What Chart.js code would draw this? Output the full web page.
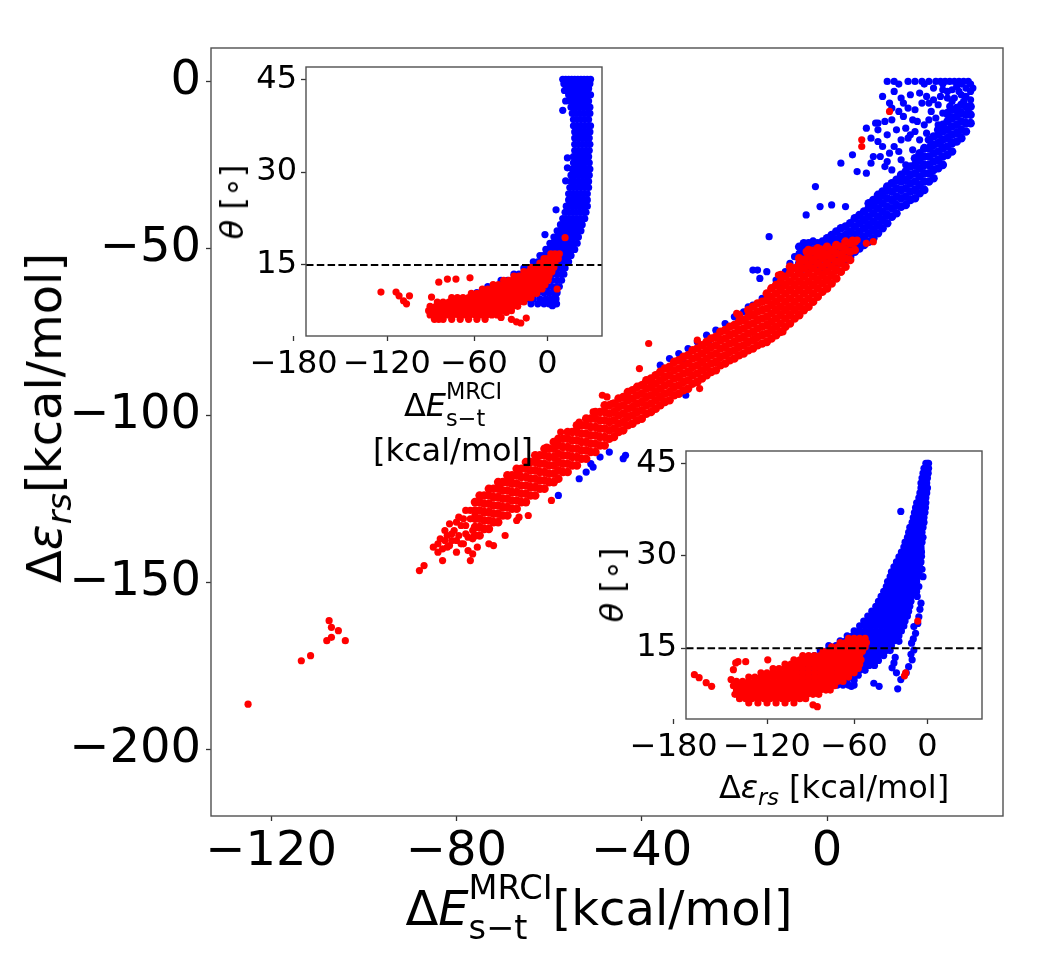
<!DOCTYPE html>
<html><head><meta charset="utf-8">
<script src="https://cdn.jsdelivr.net/npm/chart.js@4/dist/chart.umd.min.js"></script>
<style>
html,body{margin:0;padding:0;background:#fff;}
#wrap{position:relative;width:1056px;height:960px;overflow:hidden;background:#fff;font-family:'DejaVu Sans',sans-serif;color:#000;}
canvas{position:absolute;left:0;top:0;}
.t{position:absolute;white-space:nowrap;line-height:1;transform:translate(-50%,-50%);}
.r{transform:translate(-50%,-50%) rotate(-90deg);}
.ss{display:inline-block;font-size:0.7em;line-height:1.2;vertical-align:-0.42em;text-align:left;}
.ss span{display:block;}
.sb{font-size:0.7em;position:relative;top:0.3em;}
i{font-style:italic;}
.two{text-align:center;line-height:1.15;}
</style></head><body>
<div id="wrap">
<canvas id="main" width="1056" height="960"></canvas>
<canvas id="in1" width="1056" height="960"></canvas>
<canvas id="in2" width="1056" height="960"></canvas>
<div class="t" style="left:599px;top:908px;font-size:48px">Δ<i>E</i><span class="ss"><span>MRCI</span><span>s−t</span></span>[kcal/mol]</div>
<div class="t r" style="left:44px;top:418px;font-size:48px">Δ<i>ε</i><i class="sb">rs</i>[kcal/mol]</div>
<div class="t r" style="left:232px;top:202px;font-size:32px"><i>θ</i> [∘]</div>
<div class="t r" style="left:612px;top:585px;font-size:32px"><i>θ</i> [∘]</div>
<div class="t two" style="left:453px;top:423px;font-size:32px">Δ<i>E</i><span class="ss"><span>MRCI</span><span>s−t</span></span><br>[kcal/mol]</div>
<div class="t" style="left:834px;top:787px;font-size:32px">Δ<i>ε</i><i class="sb">rs</i> [kcal/mol]</div>
</div>
<script>
// ===== DATA =====
// Main panel: x = ΔE_MRCI(s-t), y = Δε_rs.  Columns: [x, y1, y2, ...]
const mainRedColumns = [
[-76,-136,-133.5,-131,-128.5,-126],
[-75,-136,-133.5,-131,-128.5,-126,-124],[-74,-134,-131.5,-129,-126.5,-124],[-73,-134,-131.5,-129,-126.5,-124,-122],
[-72,-132,-129.5,-127,-124.5,-122],[-71,-132,-129.5,-127,-124.5,-122,-120],[-70,-130,-127.5,-125,-122.5,-120],
[-69,-130,-127.5,-125,-122.5,-120,-118],[-68,-128,-125.5,-123,-120.5,-118],[-67,-128,-125.5,-123,-120.5,-118,-116],
[-66,-126,-123.5,-121,-118.5,-116],[-65,-126,-123.5,-121,-118.5,-116,-114],[-64,-124,-121.5,-119,-116.5,-114],
[-63,-124,-121.5,-119,-116.5,-114,-112],[-62,-122,-119.5,-117,-114.5,-112],[-61,-122,-119.5,-117,-114.5,-112,-110],
[-60,-120,-117.5,-115,-112.5,-110],[-59,-120,-117.5,-115,-112.5,-110,-108],[-58,-119,-116.5,-114,-111.5,-109,-107],
[-57,-117,-114.5,-112,-109.5,-107],[-56,-117,-114.5,-112,-109.5,-107,-105],[-55,-115,-112.5,-110,-107.5,-105],
[-54,-115,-112.5,-110,-107.5,-105,-103],[-53,-113,-110.5,-108,-105.5,-103],[-52,-113,-110.5,-108,-105.5,-103,-101],
[-51,-111,-108.5,-106,-103.5,-101],[-50,-111,-108.5,-106,-103.5,-101,-99],[-49,-109,-106.5,-104,-101.5,-99],
[-48,-109,-106.5,-104,-101.5,-99,-97],[-47,-107,-104.5,-102,-99.5,-97],[-46,-106.5,-104,-101.5,-99,-96.5],
[-45,-105,-102.5,-100,-97.5,-95],[-44,-104.5,-102,-99.5,-97,-94.5],[-43,-103,-100.5,-98,-95.5,-93],
[-42,-102.5,-100,-97.5,-95,-92.5],[-41,-101.5,-99,-96.5,-94,-91.5],[-40,-101,-98.5,-96,-93.5,-91],
[-39,-99.5,-97,-94.5,-92,-89.5],[-38,-99,-96.5,-94,-91.5,-89],[-37,-98,-95.5,-93,-90.5,-88],
[-36,-97,-94.5,-92,-89.5,-87],[-35,-96,-93.5,-91,-88.5,-86],[-34,-95.5,-93,-90.5,-88,-85.5],
[-33,-94,-91.5,-89,-86.5,-84],[-32,-93.5,-91,-88.5,-86,-83.5],[-31,-92.5,-90,-87.5,-85,-82.5],
[-30,-92,-89.5,-87,-84.5,-82],[-29,-90.5,-88,-85.5,-83,-80.5],[-28,-90,-87.5,-85,-82.5,-80],
[-27,-89,-86.5,-84,-81.5,-79],[-26,-88,-85.5,-83,-80.5,-78],[-25,-87,-84.5,-82,-79.5,-77],
[-24,-86.5,-84,-81.5,-79,-76.5],[-23,-85,-82.5,-80,-77.5,-75],[-22,-84.5,-82,-79.5,-77,-74.5],
[-21,-83.5,-81,-78.5,-76,-73.5],[-20,-83,-80.5,-78,-75.5,-73],[-19,-82,-79.5,-77,-74.5,-72,-70],
[-18,-81.5,-79,-76.5,-74,-71.5],[-17,-80.5,-78,-75.5,-73,-70.5,-68.5],[-16,-80,-77.5,-75,-72.5,-70,-67.5],
[-15,-79,-76.5,-74,-71.5,-69,-66.5],[-14,-78.5,-76,-73.5,-71,-68.5,-66],[-13,-78,-75.5,-73,-70.5,-68,-65.5,-63.5],
[-12,-77,-74.5,-72,-69.5,-67,-64.5,-62],[-11,-76,-73.5,-71,-68.5,-66,-63.5,-61],[-10,-75,-72.5,-70,-67.5,-65,-62.5,-60,-58],
[-9,-73.5,-71,-68.5,-66,-63.5,-61,-58.5],[-8,-72.5,-70,-67.5,-65,-62.5,-60,-57.5,-55.5],[-7,-71,-68.5,-66,-63.5,-61,-58.5,-56],
[-6,-70,-67.5,-65,-62.5,-60,-57.5,-55,-53],[-5,-68.5,-66,-63.5,-61,-58.5,-56,-53.5],[-4,-67.5,-65,-62.5,-60,-57.5,-55,-52.5,-50.5],
[-3,-66,-63.5,-61,-58.5,-56,-53.5,-51],[-2,-64.5,-62,-59.5,-57,-54.5,-52,-50],[-1,-63,-60.5,-58,-55.5,-53,-50.5],
[0,-62,-59.5,-57,-54.5,-52,-49.5],[1,-60.5,-58,-55.5,-53,-50.5],[2,-59,-56.5,-54,-51.5,-49],
[3,-57,-54.5,-52,-49.5],[4,-55.5,-53,-50.5,-48],[5,-53.5,-51,-48.5],[6,-50.5,-48]
];
// scattered red points: x,y pairs
const mainRedExtra = [
-125,-186.5, -113.5,-173.5, -111.5,-172, -108,-167.5, -107,-166.5, -104,-167.5, -105.5,-164.5, -107,-163.5, -107.5,-161.5,
-88,-146.5, -87,-145, -83,-143.5, -77,-143.5, -73,-138.5, -67,-131.5,
-84,-141, -83.5,-137, -82,-139.5, -81,-135.5, -80,-141, -80,-137.5, -79,-133, -78.5,-138.5, -78,-135.5, -77,-131,
-77.5,-140.5, -76.5,-137, -79.5,-130.5, -81.5,-132.5, -85,-139.5, -82.5,-134.5, -75.5,-139.5, -78,-128.5,
-83,-140, -82.5,-137.5, -81.5,-139, -80.5,-134.5, -79.5,-136, -79,-138.5, -78,-133, -77.5,-136.5, -76.5,-134.5,
-77,-128.5, -80,-132, -81,-137.5, -78.5,-131, -76,-130, -82,-136, -84,-138.5,
-70.5,-122, -68,-120, -66.5,-116.5, -62.5,-114, -60.5,-109.5, -57.5,-105, -54,-103.5, -47.5,-94.5, -50.5,-99, -53.5,-102,
-76.5,-141.5, -72,-139, -69.5,-136, -66.5,-130.5, -64.5,-130, -59.5,-125.5,
-38.5,-78.5, -9.5,-75, -19.5,-69.5, -10.5,-58, -40.5,-86, -39.5,-90.5, -38,-90.5, -48.5,-94, -46.5,-96.5, -43,-94.5,
-34.5,-86, -27.5,-92, -28,-77.5,
13.5,-9, 7.5,-17.5, 7.5,-19.5, 6.5,-47.5, 10,-48, 8.5,-48.5, 5.5,-47.5, 3,-53.5, 1,-53, -1,-52, -4.5,-51, -3,-50.5
];
const mainBlueColumns = [
[-6,-57,-54.5,-52,-49.5],[-5,-56,-53.5,-51,-48.5],[-4,-56,-53.5,-51,-48.5],[-3,-55.5,-53,-50.5,-48],
[-2,-56,-53.5,-51,-48.5],[-1,-55.5,-53,-50.5,-48],[0,-56,-53.5,-51,-48.5,-47],[1,-55,-52.5,-50,-47.5,-46],
[2,-55,-52.5,-50,-47.5,-45],[3,-54,-51.5,-49,-46.5,-44],[4,-53.5,-51,-48.5,-46,-43.5],[5,-52.5,-50,-47.5,-45,-42.5],
[6,-51,-48.5,-46,-43.5,-41],[7,-50,-47.5,-45,-42.5,-40],[8,-49,-46.5,-44,-41.5,-39],[9,-48,-45.5,-43,-40.5,-38,-36.5],
[10,-47,-44.5,-42,-39.5,-37,-35.5],[11,-45.5,-43,-40.5,-38,-35.5,-34],[12,-44,-41.5,-39,-36.5,-34,-33],
[13,-42.5,-40,-37.5,-35,-32.5,-31.5],[14,-40.5,-38,-35.5,-33,-30.5],[15,-39.5,-37,-34.5,-32,-29.5],
[16,-37.5,-35,-32.5,-30,-28],[17,-37,-34.5,-32,-29.5,-27],[18,-35.5,-33,-30.5,-28,-25.5],
[19,-35,-32.5,-30,-27.5,-25,-23],[20,-33.5,-31,-28.5,-26,-23.5,-21.5],[21,-32.5,-30,-27.5,-25,-22.5,-20],
[22,-30,-27.5,-25,-22.5,-20,-17.5],[23,-29,-26.5,-24,-21.5,-19,-16.5],[24,-26,-23.5,-21,-18.5,-16,-14.5],
[25,-25,-22.5,-20,-17.5,-15,-13],[26,-22,-19.5,-17,-14.5,-12,-9.5],[27,-21,-18.5,-16,-13.5,-11,-8.5],
[28,-18,-15.5,-13,-10.5,-8],[29,-17,-14.5,-12,-9.5,-7],[30,-15,-12.5,-10,-7.5],[31,-12.5,-10,-7.5]
];
const mainBlueExtra = [
-36,-85, -34,-83, -32,-81.5, -30,-80, -28,-78, -26,-76, -24,-74.5, -22,-72.5, -20,-70.5, -18,-69, -16,-67, -14,-65,
-31,-84, -25.5,-77.5, -17,-67.5,
-58,-124, -53.5,-119, -51,-114.5, -49,-112.5, -47,-111, -43.5,-112, -44,-113, -52,-117, -50.5,-115.5, -30.5,-94,
-10,-61.5, -8,-54.5, -9,-57, -7,-52.5, -11,-59.5, -12,-62, -6,-51.5, -5,-50,
-2.5,-31.5, -1.5,-37.5, 1,-37, 4,-37.5, -4.5,-40, -12.5,-46.5, -16,-56.5, -15,-56.5, -14.5,-59, -13,-57,
3,-24.5, 5.5,-22, 6.5,-27, 8.5,-27.5, 8.5,-14, 11,-12.5, 9.5,-17,
13,0, 14.5,0, 17.5,0, 19,0, 20.5,0, 22,0, 23.5,0, 24.5,0, 25.5,0, 26.5,0, 27.5,0, 28.5,0, 29.5,0, 30.5,0,
15.5,-0.8, 21,-0.8, 25,-0.8, 29,-0.8, 31,-0.8,
14.5,-3, 12,-4.5, 16,-5, 16.5,-6.5, 20,-3.5, 21.5,-4.5, 23,-5.5, 24.5,-4.5, 26.5,-7.5, 28,-8.5, 29.5,-6, 27.5,-5,
31,-3, 30,-2, 25,-2.5, 23,-2, 19,-8.5, 16.5,-10.5, 14,-11.5, 18.5,-11.5, 21,-13, 23.5,-11, 22.5,-9, 25,-9.5,
20,-17.5, 18.5,-20.5, 17,-25, 16,-17.5, 14.5,-19.5, 13.5,-21.5, 12,-19.5, 11.5,-22.5, 12.5,-25.5, 10,-22.5,
9.5,-24.5, 11,-14.5, 10.5,-12.5, 19,-15, 17,-14, 26,-10, 13,-16, 15,-14.5,
27,-2.5, 28.5,-3, 30,-4.5, 31,-5.5, 29,-4, 30.5,-8.5, 27,-6, 26,-5, 24,-7, 22,-6.5, 31.5,-2, 28,-1.5, 26,-3,
14,-8, 15.5,-9, 17.5,-8, 18,-4, 20.5,-6.5, 22,-11.5, 24,-13, 21.5,-15.5, 19.5,-12, 17.5,-17, 15.5,-21, 13,-24,
14,-26.5, 16,-23.5, 18,-16, 12.5,-12, 13.5,-6.5, 11,-18
];
const mainXTicks = [-120,-80,-40,0];
const mainYTicks = [0,-50,-100,-150,-200];

// Inset 1 (top-left): x = ΔE_MRCI(s-t), y = θ.  Rows: [θ, x1, x2, ...]
const inset1BlueRows = [
[45,15,17.5,20,22.5,25,27.5,30,32.5,35,37.5],[44.3,16,19,22,25,28,31,34,37],[43.5,18,21,24,27,30,33,36],
[42.5,20,23,26,29,32,35,37.5],[41.5,21,24,27,30,33,36],[40.5,22,25,28,31,34,37],[39.5,23,26,29,32,35,37],
[38.5,24,27,30,33,36],[37.5,24,27,30,33,36,37.5],[36.5,25,28,31,34,37],[35.5,25,28,31,34,36.5],
[34.5,25,28,31,34,37],[33.5,25,28,31,34,36.5],[32.5,24,27,30,33,36],[31.5,24,27,30,33,36.5],
[30.5,23,26,29,32,35,37],[29.5,22,25,28,31,34,36.5],[28.5,22,25,28,31,34,36],[27.5,21,24,27,30,33,36],
[26.5,20,23,26,29,32,35],[25.5,20,23,26,29,32,35],[24.5,18,21,24,27,30,33,35],[23.5,17,20,23,26,29,32,34],
[22.5,15,18,21,24,27,30,33],[21.5,13,16,19,22,25,28,31],[20.5,10,13,16,19,22,25,28,30],
[19.5,7,10,13,16,19,22,25,28],[18.5,3,6,9,12,15,18,21,24,27],[17.5,-2,1,4,7,10,13,16,19,22,25],
[16.5,-8,-5,-2,1,4,7,10,13,16,19,22],[15.5,-14,-10,-6,-2,2,6,10,14,18,20],
[14.5,-22,-18,-14,-10,-6,-2,2,6,10,14,17],[13.5,-30,-26,-22,-18,-14,-10,-6,-2,2,6,10,14,16],
[12.5,-40,-35,-30,-25,-20,-15,-10,-5,0,5,10,14],[11.5,-50,-45,-40,-35,-30,-25,-20,-15,-10,-5,0,5,9,12],
[10.5,-58,-52,-46,-40,-34,-28,-22,-16,-10,-4,2,7,10],[9.5,-62,-56,-50,-20,-14,-8,-2,4,9],
[8.7,-58,-52,-16,-10,-4,2,7,9.5]
];
const inset1BlueExtra = [9,23.9, -3,19.9, 17.5,28.6, 19,32.3, 19,30.7, 15,40, 17.5,41.5, 16.5,43.2, 5.5,8.4, 8,9.7];
const inset1RedRows = [
[16.8,4,8,12],[16,-4,0,4,8,11],[15.3,-8,-4,0,4,8],[14.6,-16,-12,-8,-4,0,4,7],
[13.9,-22,-18,-14,-10,-6,-2,2,5],[13.2,-30,-26,-22,-18,-14,-10,-6,-2,2],
[12.5,-38,-34,-30,-26,-22,-18,-14,-10,-6,-2,1],[11.8,-46,-42,-38,-34,-30,-26,-22,-18,-14,-10,-6,-3],
[11.1,-54,-50,-46,-42,-38,-34,-30,-26,-22,-18,-14,-10,-6],
[10.4,-62,-58,-54,-50,-46,-42,-38,-34,-30,-26,-22,-18,-14,-11],
[9.7,-76,-72,-68,-64,-60,-56,-52,-48,-44,-40,-36,-32,-28,-24,-20,-16],
[9,-86,-82,-78,-74,-70,-66,-62,-58,-54,-50,-46,-42,-38,-34,-30,-26,-22],
[8.3,-91,-87,-83,-79,-75,-71,-67,-63,-59,-55,-51,-47,-43,-39,-35,-31,-27],
[7.6,-92,-88,-84,-80,-76,-72,-68,-64,-60,-56,-52,-48,-44,-40,-36,-32],
[6.9,-91,-87,-83,-79,-75,-71,-67,-63,-59,-55,-51,-47,-43],[6.2,-88,-82,-76,-70,-64,-58,-52]
];
const inset1RedExtra = [-124,10.6, -114,10.6, -112,10, -109,9.2, -107,8.7, -105,10, -90,9.8, -85,12.2, -79,12.7,
-73,12.7, -63,12.9, 17,19.4, 10,11.1, -24.5,5.6, -20,6.4, -90,7.2, -85,6.2, -40,6.5, -36,7.3, -32,6.2, -28,5.8];

// Inset 2 (bottom-right): x = Δε_rs, y = θ.  Rows: [θ, x1, x2, ...]
const inset2BlueRows = [
[45,-2,0,1.5],[44.2,-4,-2,0,1.5],[43.4,-5,-3,-1,1],[42.6,-6,-4,-2,0],[41.8,-7,-5,-3,-1],[41,-7,-4.5,-2,0],
[40.2,-8,-5.5,-3,-1],[39.4,-9,-6.5,-4,-2],[38.6,-11,-8.5,-6,-3.5,-2],[37.8,-12,-9.5,-7,-4.5,-2.5],
[37,-13,-10.5,-8,-5.5,-3],[36.2,-14,-11.5,-9,-6.5,-4],[35.4,-15,-12.5,-10,-7.5,-5,-4],[34.6,-17,-14,-11,-8,-5],
[33.8,-18,-15,-12,-9,-6],[33,-19,-16,-13,-10,-7,-5],[32.2,-21,-18,-15,-12,-9,-6],[31.4,-22,-19,-16,-13,-10,-7],
[30.6,-24,-21,-18,-15,-12,-9,-6.5],[29.8,-26,-23,-20,-17,-14,-11,-8],[29,-28,-25,-22,-19,-16,-13,-10,-7],
[28.2,-30,-27,-24,-21,-18,-15,-12,-9],[27.4,-32,-29,-26,-23,-20,-17,-14,-11,-9],
[26.6,-33,-30,-27,-24,-21,-18,-15,-12,-10],[25.8,-35,-32,-29,-26,-23,-20,-17,-14,-11],
[25,-36,-33,-30,-27,-24,-21,-18,-15,-12],[24.2,-38,-35,-32,-29,-26,-23,-20,-17,-14],
[23.4,-40,-37,-34,-31,-28,-25,-22,-19,-16],[22.6,-42,-39,-36,-33,-30,-27,-24,-21,-18,-16],
[21.8,-44,-41,-38,-35,-32,-29,-26,-23,-20,-17],[21,-47,-44,-41,-38,-35,-32,-29,-26,-23,-20,-18],
[20.2,-50,-46,-42,-38,-34,-30,-26,-22,-19],[19.4,-53,-49,-45,-41,-37,-33,-29,-25,-21],
[18.6,-56,-52,-48,-44,-40,-36,-32,-28,-24,-22],[17.8,-60,-56,-52,-48,-44,-40,-36,-32,-28,-24],
[17,-65,-61,-57,-53,-49,-45,-41,-37,-33,-29,-26],[16.2,-70,-66,-62,-58,-54,-50,-46,-42,-38,-34,-30],
[15.4,-78,-73,-68,-64,-60,-56,-52,-48,-44,-40,-36,-32],[14.6,-84,-79,-74,-69,-64,-60,-56,-52,-48,-44,-40,-36,-33],
[13.8,-88,-83,-78,-73,-68,-63,-58,-54,-50,-46,-42,-38],[13,-92,-87,-82,-77,-72,-67,-62,-58,-54,-50,-46,-42],
[12.2,-96,-91,-86,-81,-76,-71,-66,-61,-57,-53,-49,-45],[11.4,-102,-96,-90,-84,-78,-72,-66,-61,-56,-52],
[10.6,-108,-102,-96,-90,-84,-78,-72,-66,-61,-57],[9.8,-100,-94,-88,-82,-76,-70,-65,-60],[9,-72,-68,-64,-60]
];
const inset2BlueExtra = [-5,26.6, -7,22.3, -9,25, -12,25.8, -10.5,23.4, -6.5,29.9, -12,28.2, -9,20.1, -13.5,18.5,
-12,17.4, -15.5,15.8, -13.5,14.7, -15,13.1, -24.5,9.9, -27,8.4, -30,12.6, -31.5,11.8, -26,16.1, -24.5,37.2,
-45.5,9.3, -41.5,8.8, -62,8.8, -8,21.3, -10,19, -11,24.2, -6,27.8, -8,28.8, -7,31, -16,14, -14,16.5, -28,11,
-29,13.5, -20,11, -18,12];
const inset2RedRows = [
[16.6,-64,-60,-56,-52],[15.9,-70,-66,-62,-58,-54,-51],[15.2,-76,-72,-68,-64,-60,-56,-52],
[14.5,-82,-78,-74,-70,-66,-62,-58,-54],[13.8,-96,-92,-88,-84,-80,-76,-72,-68,-64,-60,-56],
[13.1,-102,-98,-94,-90,-86,-82,-78,-74,-70,-66,-62,-58,-55],
[12.4,-108,-104,-100,-96,-92,-88,-84,-80,-76,-72,-68,-64,-60,-56],
[11.7,-116,-112,-108,-104,-100,-96,-92,-88,-84,-80,-76,-72,-68,-64,-60,-57],
[11,-124,-120,-116,-112,-108,-104,-100,-96,-92,-88,-84,-80,-76,-72,-68,-64,-60],
[10.3,-132,-128,-124,-120,-116,-112,-108,-104,-100,-96,-92,-88,-84,-80,-76,-72,-68,-64],
[9.6,-140,-136,-132,-128,-124,-120,-116,-112,-108,-104,-100,-96,-92,-88,-84,-80,-76,-72,-68],
[8.9,-142,-138,-134,-130,-126,-122,-118,-114,-110,-106,-102,-98,-94,-90,-86,-82,-78,-74],
[8.2,-140,-136,-132,-128,-124,-120,-116,-112,-108,-104,-100,-96,-92,-88,-84,-80,-77],
[7.5,-141,-137,-133,-129,-125,-121,-117,-113,-109,-105,-101,-97,-93,-89,-85],
[6.8,-138,-134,-130,-126,-122,-118,-114,-110,-106,-102,-98,-94],[6.1,-132,-126,-120,-114,-108,-102]
];
const inset2RedExtra = [-167,10.7, -164,10.2, -159.5,9.4, -156,8.8, -143.5,9.9, -140.5,12.6, -139,12.8, -134,12.8,
-119.5,13.1, -89,5.8, -10,19.4, -20.5,11, -21.5,10.5, -142,11.5, -138,7, -86,5.5];
const insetXTicks = [-180,-120,-60,0];
const insetYTicks = [15,30,45];
const thetaThreshold = 15;

// ===== BUILD =====
Chart.defaults.font.family = "'DejaVu Sans'";
Chart.defaults.color = '#000';

const INSET_X_POWER = 1.13;       // inset x axes are non-linear in the reference
class PowScale extends Chart.LinearScale {
  _f(v){ return Math.sign(v) * Math.pow(Math.abs(v), INSET_X_POWER); }
  getPixelForValue(v){ const a=this._f(this.min), b=this._f(this.max); return this.getPixelForDecimal((this._f(v)-a)/(b-a)); }
  getValueForPixel(p){ const a=this._f(this.min), b=this._f(this.max); const t=a+this.getDecimalForPixel(p)*(b-a); return Math.sign(t)*Math.pow(Math.abs(t),1/INSET_X_POWER); }
}
PowScale.id = 'pow';
PowScale.defaults = Chart.LinearScale.defaults;
Chart.register(PowScale);

const fromCols = cols => { const o=[]; cols.forEach(c=>{ for(let i=1;i<c.length;i++) o.push({x:c[0],y:c[i]}); }); return o; };
const fromRows = rows => { const o=[]; rows.forEach(r=>{ for(let i=1;i<r.length;i++) o.push({x:r[i],y:r[0]}); }); return o; };
const fromPairs = a => { const o=[]; for(let i=0;i<a.length;i+=2) o.push({x:a[i],y:a[i+1]}); return o; };
const fmt = v => v < 0 ? '\u2212' + Math.abs(v) : String(v);

const framePlugin = {
  id: 'frame',
  beforeDatasetsDraw(chart, args, o){
    if (!o.fill) return;
    const a = chart.chartArea, c = chart.ctx;
    c.save(); c.fillStyle = '#fff'; c.fillRect(a.left, a.top, a.right-a.left, a.bottom-a.top); c.restore();
  },
  afterDatasetsDraw(chart){
    const a = chart.chartArea, c = chart.ctx;
    c.save(); c.strokeStyle = '#505050'; c.lineWidth = 1.4;
    c.strokeRect(a.left, a.top, a.right-a.left, a.bottom-a.top); c.restore();
  }
};

function axis(o){
  return {
    type: o.type || 'linear', position: o.pos, min: o.min, max: o.max, bounds: 'data',
    afterBuildTicks: s => { s.ticks = o.ticks.map(v => ({value: v})); },
    afterFit: s => { if (o.pos === 'bottom') s.height = o.size; else s.width = o.size; },
    ticks: { font: {size: o.font}, color: '#000', padding: o.pad, autoSkip: false, maxRotation: 0, minRotation: 0, callback: v => fmt(v) },
    grid: { display: true, drawOnChartArea: false, drawTicks: true, tickLength: 5, tickWidth: 1.3, tickColor: '#333' },
    border: { display: false }
  };
}
const pts = (data, color, order, r) => ({ data, backgroundColor: color, borderWidth: 0, pointRadius: r || 3.6, pointHoverRadius: r || 3.6, order, clip: 0 });

function makeChart(id, datasets, padding, x, y, fill){
  return new Chart(document.getElementById(id), {
    type: 'scatter',
    data: { datasets },
    options: {
      responsive: false, animation: false, events: [],
      layout: { padding },
      plugins: { legend: {display: false}, tooltip: {enabled: false}, frame: {fill} },
      scales: { x, y }
    },
    plugins: [framePlugin]
  });
}

const BLUE = '#0000ff', RED = '#ff0000';

makeChart('main', [
  pts(fromCols(mainRedColumns), RED, 1, 4.3),
  pts(fromPairs(mainRedExtra), RED, 1),
  pts(fromCols(mainBlueColumns), BLUE, 2, 4.3),
  pts(fromPairs(mainBlueExtra), BLUE, 2)
], {left: 0, top: 48, right: 53, bottom: 0},
  axis({pos: 'bottom', min: -133, max: 38, ticks: mainXTicks, size: 144, font: 48, pad: 3}),
  axis({pos: 'left', min: -220, max: 10, ticks: mainYTicks, size: 211, font: 48, pad: 5}), false);

const INX_MIN = -172.3, INX_MAX = 46.2;
const dashLine = () => ({ data: [{x: INX_MIN, y: thetaThreshold}, {x: INX_MAX, y: thetaThreshold}], showLine: true,
  borderColor: '#000', borderWidth: 2, borderDash: [7.5, 3.3], pointRadius: 0, order: 0, clip: 0 });

makeChart('in1', [
  dashLine(),
  pts(fromRows(inset1RedRows).concat(fromPairs(inset1RedExtra)), RED, 1),
  pts(fromRows(inset1BlueRows).concat(fromPairs(inset1BlueExtra)), BLUE, 2)
], {left: 0, top: 67, right: 454, bottom: 0},
  axis({type: 'pow', pos: 'bottom', min: INX_MIN, max: INX_MAX, ticks: insetXTicks, size: 624, font: 32, pad: 4}),
  axis({pos: 'left', min: 3.5, max: 47, ticks: insetYTicks, size: 306, font: 32, pad: 4}), true);

makeChart('in2', [
  dashLine(),
  pts(fromRows(inset2RedRows).concat(fromPairs(inset2RedExtra)), RED, 1),
  pts(fromRows(inset2BlueRows).concat(fromPairs(inset2BlueExtra)), BLUE, 2)
], {left: 0, top: 451, right: 74, bottom: 0},
  axis({type: 'pow', pos: 'bottom', min: INX_MIN, max: INX_MAX, ticks: insetXTicks, size: 241, font: 32, pad: 4}),
  axis({pos: 'left', min: 3.5, max: 47, ticks: insetYTicks, size: 686, font: 32, pad: 4}), true);
</script>
</body></html>
